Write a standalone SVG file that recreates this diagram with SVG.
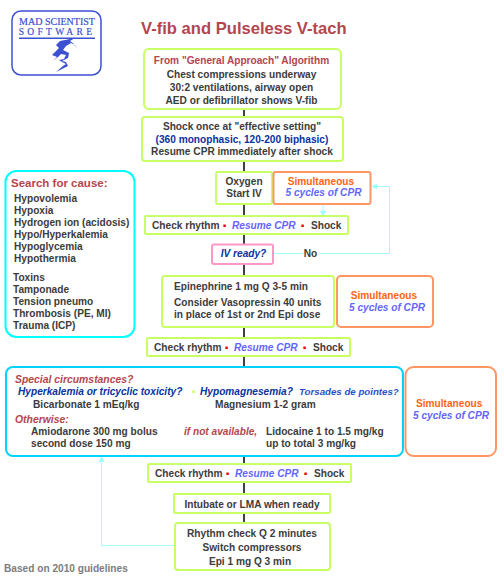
<svg xmlns="http://www.w3.org/2000/svg" width="504" height="576" viewBox="0 0 504 576">
<style>
text{font-family:"Liberation Sans",Arial,sans-serif;font-size:10.150px;font-weight:bold;fill:#3c3c3c}
.m{text-anchor:middle}
.g{fill:#fff;stroke:#c8ff64;stroke-width:2}
.o{fill:#fff;stroke:#ff9664;stroke-width:2}
.c{fill:#fff;stroke:#00d2ff;stroke-width:2}
.red{fill:#b4464e}
.redi{fill:#b4464e;font-style:italic}
.navy{fill:#0a32a0}
.navyi{fill:#0a32a0;font-style:italic}
.sim{fill:#ff6414}
.cpr{fill:#6464ff;font-style:italic}
.dot{fill:#e60000;text-anchor:middle;font-size:17px}
.ln{fill:none;stroke:#000;stroke-width:1.5}
.cy{fill:none;stroke:#a0ffff;stroke-width:1}
</style>
<defs>
<marker id="a" markerWidth="6" markerHeight="6" refX="5" refY="3" orient="auto" markerUnits="userSpaceOnUse"><path d="M0 0L6 3L0 6Z" fill="#a0ffff"/></marker>
</defs>
<g id="connectors">
<path class="ln" d="M244 60V540"/>
<path class="cy" d="M273 253.500H389.500V186.500H372" marker-end="url(#a)"/>
<path class="cy" d="M323 204V216" marker-end="url(#a)"/>
<path class="cy" d="M175 545.500H101.500V457" marker-end="url(#a)"/>
</g>
<g id="logo">
<rect x="12" y="11" width="89" height="64" rx="9" fill="#fff" stroke="#3c50d2" stroke-width="1.500"/>
<text x="57" y="25" class="m" style="font-family:'Liberation Serif',serif;font-size:10px;font-weight:normal;fill:#3c50d2;stroke:#3c50d2;stroke-width:.2px">MAD SCIENTIST</text>
<text x="57" y="35" class="m" style="font-family:'Liberation Serif',serif;font-size:9.500px;font-weight:normal;fill:#3c50d2;letter-spacing:3.300px;stroke:#3c50d2;stroke-width:.2px">SOFTWARE</text>
<path d="M19 37.500H95V39H19Z" fill="#3c50d2"/>
<path d="M75 38L60 41L56 45L59 48L54 53L52 55L57 57L53 61L58 57L61 54L66 55L64 59L59 60L62 62L66 64L63 66L56 72L62 69L68 66L66 62L62 61L68 58L69 53L63 50L66 46L71 43L75 45L78 50L74 44L70 41Z" fill="#3c50d2"/>
</g>
<text id="title" x="141" y="33.500" style="font-size:16.600px" class="red">V-fib and Pulseless V-tach</text>
<g id="n1"><rect class="g" x="144" y="49" width="197" height="60" rx="5"/>
<text x="241.500" y="64" class="m red">From "General Approach" Algorithm</text>
<text x="241.500" y="77.500" class="m">Chest compressions underway</text>
<text x="241.500" y="91" class="m">30:2 ventilations, airway open</text>
<text x="241.500" y="104" class="m">AED or defibrillator shows V-fib</text></g>
<g id="n2"><rect class="g" x="142" y="117" width="201" height="44" rx="3"/>
<text x="242" y="130" class="m">Shock once at "effective setting"</text>
<text x="242" y="143" class="m navy">(360 monophasic, 120-200 biphasic)</text>
<text x="242" y="155" class="m">Resume CPR immediately after shock</text></g>
<g id="n3"><rect class="g" x="216" y="172" width="56" height="32" rx="2"/>
<text x="244" y="185" class="m">Oxygen</text><text x="244" y="197" class="m">Start IV</text></g>
<g id="n4"><rect class="o" x="273.500" y="172" width="97" height="32" rx="2"/>
<text x="321" y="185" class="m sim">Simultaneous</text><text x="323.500" y="196" class="m cpr">5 cycles of CPR</text></g>
<g id="n5"><rect class="g" x="145" y="216" width="203" height="18" rx="1"/>
<text x="152" y="229">Check rhythm</text><text x="225" y="231" class="dot">·</text><text x="232" y="229" class="cpr">Resume CPR</text><text x="303" y="231" class="dot">·</text><text x="311" y="229">Shock</text></g>
<g id="n6"><rect x="212" y="244.500" width="61" height="19.500" rx="2" fill="#fff" stroke="#ff96c8" stroke-width="2"/>
<text x="243.500" y="257" class="m navyi">IV ready?</text></g>
<text id="no" x="310.500" y="257" class="m" style="stroke:#fff;stroke-width:3px;paint-order:stroke">No</text>
<g id="n7"><rect class="g" x="162" y="276" width="172" height="51" rx="3"/>
<text x="174" y="290">Epinephrine 1 mg Q 3-5 min</text>
<text x="174" y="306">Consider Vasopressin 40 units</text>
<text x="174" y="318">in place of 1st or 2nd Epi dose</text></g>
<g id="n8"><rect class="o" x="337" y="276" width="96" height="51" rx="4"/>
<text x="384" y="299" class="m sim">Simultaneous</text><text x="387" y="311" class="m cpr">5 cycles of CPR</text></g>
<g id="n9"><rect class="g" x="147" y="338" width="203" height="18" rx="1"/>
<text x="154" y="351">Check rhythm</text><text x="227" y="353" class="dot">·</text><text x="234" y="351" class="cpr">Resume CPR</text><text x="305" y="353" class="dot">·</text><text x="313" y="351">Shock</text></g>
<g id="n10"><rect x="5.500" y="171" width="129" height="166" rx="11" fill="#fff" stroke="#00ffff" stroke-width="2"/>
<text x="11" y="187" class="red" style="font-size:11.500px">Search for cause:</text>
<text x="14" y="202">Hypovolemia</text><text x="14" y="214">Hypoxia</text><text x="14" y="226">Hydrogen ion (acidosis)</text><text x="14" y="238">Hypo/Hyperkalemia</text><text x="14" y="250">Hypoglycemia</text><text x="14" y="262">Hypothermia</text>
<text x="13" y="281">Toxins</text><text x="13" y="293">Tamponade</text><text x="13" y="305">Tension pneumo</text><text x="13" y="317">Thrombosis (PE, MI)</text><text x="13" y="329">Trauma (ICP)</text></g>
<g id="n11"><rect class="c" x="6" y="367" width="397" height="89" rx="7"/>
<text x="15" y="383" class="redi" style="font-size:10.400px">Special circumstances?</text>
<text x="18" y="395" class="navyi">Hyperkalemia or tricyclic toxicity?</text>
<text x="194" y="397" class="dot" style="fill:#c8ff64">·</text>
<text x="200" y="395" class="navyi">Hypomagnesemia?</text>
<text x="299" y="395" class="cpr" style="fill:#2850c8;font-size:9.700px">Torsades de pointes?</text>
<text x="33" y="408">Bicarbonate 1 mEq/kg</text>
<text x="215" y="408">Magnesium 1-2 gram</text>
<text x="15" y="423" class="redi" style="font-size:10.400px">Otherwise:</text>
<text x="31" y="435">Amiodarone 300 mg bolus</text>
<text x="31" y="447">second dose 150 mg</text>
<text x="184" y="434.500" class="redi">if not available,</text>
<text x="266" y="435">Lidocaine 1 to 1.5 mg/kg</text>
<text x="266" y="447">up to total 3 mg/kg</text></g>
<g id="n12"><rect class="o" x="405.500" y="367" width="90.500" height="89" rx="8"/>
<text x="416" y="407" class="sim">Simultaneous</text><text x="413" y="419" class="cpr">5 cycles of CPR</text></g>
<g id="n13"><rect class="g" x="148" y="464" width="203" height="18" rx="1"/>
<text x="155" y="477">Check rhythm</text><text x="228" y="479" class="dot">·</text><text x="235" y="477" class="cpr">Resume CPR</text><text x="306" y="479" class="dot">·</text><text x="314" y="477">Shock</text></g>
<g id="n14"><rect class="g" x="174" y="494" width="156" height="19" rx="1"/>
<text x="252" y="507.500" class="m">Intubate or LMA when ready</text></g>
<g id="n15"><rect class="g" x="175" y="523" width="155" height="47" rx="3"/>
<text x="252" y="537" class="m">Rhythm check Q 2 minutes</text>
<text x="252" y="550.500" class="m">Switch compressors</text>
<text x="250" y="564.500" class="m">Epi 1 mg Q 3 min</text></g>
<text id="note" x="4" y="572" style="fill:#7d7d7d">Based on 2010 guidelines</text>
</svg>
